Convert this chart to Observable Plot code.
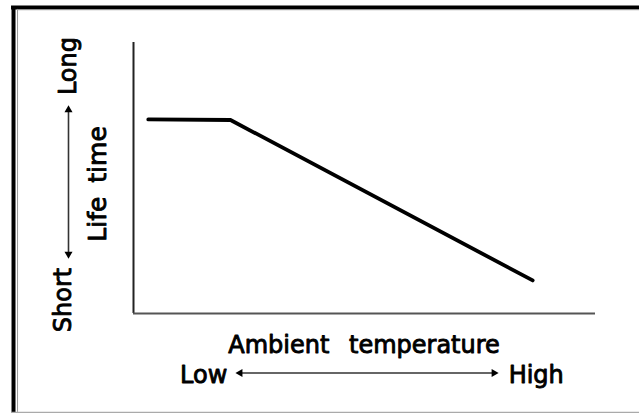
<!DOCTYPE html>
<html>
<head>
<meta charset="utf-8">
<script src="https://cdn.jsdelivr.net/npm/d3@7"></script>
<script src="https://cdn.jsdelivr.net/npm/@observablehq/plot@0.6"></script>
<style>
  html, body { margin: 0; padding: 0; background: #fff; }
  svg { display: block; }
</style>
</head>
<body>
<script>
// Curve: relative ambient temperature (0–100) vs relative life time (0–100)
const temperature = [3.2, 21, 86.4];
const lifetime = [71.6, 71.4, 12.2];

// Axis texts
const xTitle = "Ambient temperature";
const yTitle = "Life time";
const xEnds = ["Low", "High"];
const yEnds = ["Short", "Long"];

const curve = temperature.map((t, i) => ({temperature: t, lifetime: lifetime[i]}));

const font = "DejaVu Sans";
const textStyle = {fill: "black", stroke: "black", strokeWidth: 0.9, fontSize: 24};
const head = {symbol: "triangle", r: 3, fill: "black", stroke: "none"};

const chart = Plot.plot({
  width: 639,
  height: 414,
  marginLeft: 133,
  marginRight: 44,
  marginTop: 42,
  marginBottom: 101,
  x: {domain: [0, 100], axis: null},
  y: {domain: [0, 100], axis: null},
  style: {fontFamily: font, background: "white", overflow: "visible"},
  marks: [
    // outer frame
    Plot.ruleX([-25.97], {y1: -36.5, y2: 113.3, stroke: "black", strokeWidth: 4}),
    Plot.ruleY([112.9], {x1: -26.4, x2: 112, stroke: "black", strokeWidth: 4}),
    Plot.ruleX([-25.1], {y1: -36.5, y2: 112.2, stroke: "#999", strokeWidth: 1}),
    Plot.ruleY([112.1], {x1: -25.1, x2: 112, stroke: "#999", strokeWidth: 1}),
    Plot.ruleY([-36.5], {x1: -26.4, x2: 112, stroke: "#aaa", strokeWidth: 1.2}),
    // axes lines
    Plot.ruleX([0], {y1: 0, y2: 100, stroke: "#222", strokeWidth: 2}),
    Plot.ruleY([0], {x1: 0, x2: 100, stroke: "#555", strokeWidth: 1.8}),
    // curve
    Plot.line(curve, {x: "temperature", y: "lifetime", stroke: "black", strokeWidth: 3.8, strokeLinecap: "round", strokeLinejoin: "round"}),
    // x axis titles
    Plot.text([xTitle], {x: 49.9, y: -14.6, text: d => d, lineAnchor: "bottom", textAnchor: "middle", ...textStyle}),
    Plot.text([xEnds[0]], {x: 20.3, y: -25.8, text: d => d, lineAnchor: "bottom", textAnchor: "end", ...textStyle}),
    Plot.text([xEnds[1]], {x: 81.2, y: -25.8, text: d => d, lineAnchor: "bottom", textAnchor: "start", ...textStyle}),
    // x direction arrow
    Plot.link([0], {x1: 23, x2: 78, y1: -21.95, y2: -21.95, stroke: "#333", strokeWidth: 1.6}),
    Plot.dot([0], {x: 22.1, y: -21.95, rotate: -90, dx: 4.5, ...head}),
    Plot.dot([0], {x: 79.0, y: -21.95, rotate: 90, dx: -4.5, ...head}),
    // y axis titles
    Plot.text([yTitle], {x: -6.06, y: 47.8, text: d => d, rotate: -90, lineAnchor: "bottom", textAnchor: "middle", ...textStyle, fontSize: 25}),
    Plot.text([yEnds[1]], {x: -12.55, y: 91.3, text: d => d, rotate: -90, lineAnchor: "bottom", textAnchor: "middle", ...textStyle}),
    Plot.text([yEnds[0]], {x: -13.5, y: 4.98, text: d => d, rotate: -90, lineAnchor: "bottom", textAnchor: "middle", ...textStyle}),
    // y direction arrow
    Plot.link([0], {x1: -14.07, x2: -14.07, y1: 21.5, y2: 75.5, stroke: "#333", strokeWidth: 1.6}),
    Plot.dot([0], {x: -14.07, y: 76.75, rotate: 0, dy: 4.5, ...head}),
    Plot.dot([0], {x: -14.07, y: 20.3, rotate: 180, dy: -4.5, ...head})
  ]
});

// wider word gaps as in the original lettering
chart.querySelectorAll("text").forEach(t => {
  if (t.textContent === xTitle) t.style.wordSpacing = "12px";
  if (t.textContent === yTitle) t.style.wordSpacing = "6px";
});

document.body.appendChild(chart);
</script>
</body>
</html>
